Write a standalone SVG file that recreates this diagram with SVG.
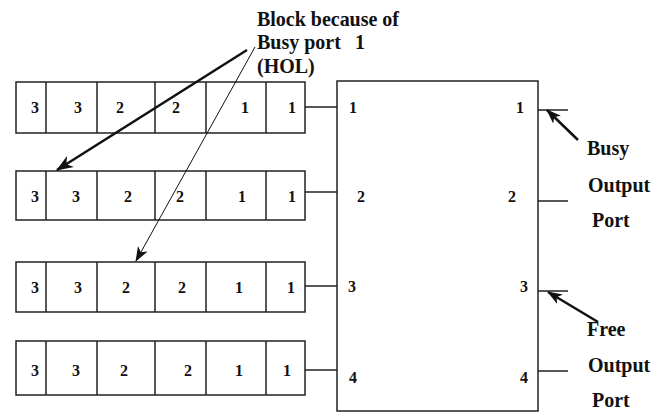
<svg xmlns="http://www.w3.org/2000/svg" width="665" height="412" viewBox="0 0 665 412">
  <style>
    .box { fill: #fff; stroke: #222; stroke-width: 1.5; }
    .div { stroke: #222; stroke-width: 1.5; }
    .wire { stroke: #222; stroke-width: 1.5; fill: none; }
    .num { font-family: "Liberation Serif", "Times New Roman", serif; font-weight: bold; font-size: 16px; fill: #111; text-anchor: middle; }
    .lbl { font-family: "Liberation Serif", "Times New Roman", serif; font-weight: bold; font-size: 20px; fill: #111; }
    .thick { stroke: #111; stroke-width: 2.5; fill: none; }
    .thin { stroke: #111; stroke-width: 1; fill: none; }
  </style>
  <defs>
    <marker id="head" viewBox="0 0 15 11" refX="14" refY="5.5" markerWidth="15" markerHeight="11" markerUnits="userSpaceOnUse" orient="auto">
      <path d="M0,0 L15,5.5 L0,11 L4,5.5 z" fill="#111"/>
    </marker>
    <marker id="headBig" viewBox="0 0 17 13" refX="16" refY="6.5" markerWidth="17" markerHeight="13" markerUnits="userSpaceOnUse" orient="auto">
      <path d="M0,0 L17,6.5 L0,13 L5,6.5 z" fill="#111"/>
    </marker>
  </defs>

  <!-- input queue 1 -->
  <g id="queue1">
    <rect class="box" x="16" y="82" width="289" height="51"/>
    <path class="div" d="M46,82V133M97,82V133M155,82V133M206,82V133M266,82V133"/>
    <text class="num" x="35" y="113">3</text>
    <text class="num" x="78" y="113">3</text>
    <text class="num" x="120" y="113">2</text>
    <text class="num" x="176" y="113">2</text>
    <text class="num" x="245" y="113">1</text>
    <text class="num" x="292" y="113">1</text>
  </g>

  <!-- input queue 2 -->
  <g id="queue2">
    <rect class="box" x="16" y="171" width="289" height="49"/>
    <path class="div" d="M46,171V220M97,171V220M155,171V220M206,171V220M266,171V220"/>
    <text class="num" x="35" y="202">3</text>
    <text class="num" x="76" y="202">3</text>
    <text class="num" x="128" y="202">2</text>
    <text class="num" x="180" y="202">2</text>
    <text class="num" x="242" y="202">1</text>
    <text class="num" x="292" y="202">1</text>
  </g>

  <!-- input queue 3 -->
  <g id="queue3">
    <rect class="box" x="16" y="262" width="289" height="50"/>
    <path class="div" d="M46,262V312M97,262V312M155,262V312M206,262V312M266,262V312"/>
    <text class="num" x="35" y="293">3</text>
    <text class="num" x="78" y="293">3</text>
    <text class="num" x="126" y="293">2</text>
    <text class="num" x="182" y="293">2</text>
    <text class="num" x="239" y="293">1</text>
    <text class="num" x="291" y="293">1</text>
  </g>

  <!-- input queue 4 -->
  <g id="queue4">
    <rect class="box" x="16" y="341" width="289" height="54"/>
    <path class="div" d="M46,341V395M97,341V395M155,341V395M206,341V395M266,341V395"/>
    <text class="num" x="35" y="376">3</text>
    <text class="num" x="76" y="376">3</text>
    <text class="num" x="124" y="376">2</text>
    <text class="num" x="188" y="376">2</text>
    <text class="num" x="239" y="376">1</text>
    <text class="num" x="287" y="376">1</text>
  </g>

  <!-- switch fabric -->
  <g id="switch">
    <rect class="box" x="337" y="81" width="201" height="330"/>
    <text class="num" x="353" y="113">1</text>
    <text class="num" x="361" y="202">2</text>
    <text class="num" x="352" y="292">3</text>
    <text class="num" x="353" y="383">4</text>
    <text class="num" x="520" y="113">1</text>
    <text class="num" x="512" y="202">2</text>
    <text class="num" x="524" y="292">3</text>
    <text class="num" x="524" y="383">4</text>
  </g>

  <!-- labels -->
  <g id="hol-label">
    <text class="lbl" x="257" y="26" textLength="142" lengthAdjust="spacing">Block because of</text>
    <text class="lbl" x="257" y="49">Busy port<tspan x="355">1</tspan></text>
    <text class="lbl" x="257" y="73">(HOL)</text>
  </g>
  <g id="busy-label">
    <text class="lbl" x="587" y="155">Busy</text>
    <text class="lbl" x="588" y="192">Output</text>
    <text class="lbl" x="592" y="227">Port</text>
  </g>
  <g id="free-label">
    <text class="lbl" x="587" y="336">Free</text>
    <text class="lbl" x="588" y="372">Output</text>
    <text class="lbl" x="592" y="407">Port</text>
  </g>

  <!-- connectors -->
  <g id="connectors">
    <path class="wire" d="M305,107H337M305,192H337M305,286H337M305,370H337"/>
    <path class="wire" d="M538,110H568M538,201H568M538,291H568M538,371H568"/>
    <line class="thick" x1="247" y1="50" x2="57" y2="170" marker-end="url(#headBig)"/>
    <line class="thin" x1="255" y1="47" x2="136" y2="261" marker-end="url(#head)"/>
    <line class="thick" x1="578" y1="140" x2="547" y2="110" stroke-width="2" marker-end="url(#head)"/>
    <line class="thick" x1="598" y1="322" x2="548" y2="292" stroke-width="2" marker-end="url(#head)"/>
  </g>
</svg>
